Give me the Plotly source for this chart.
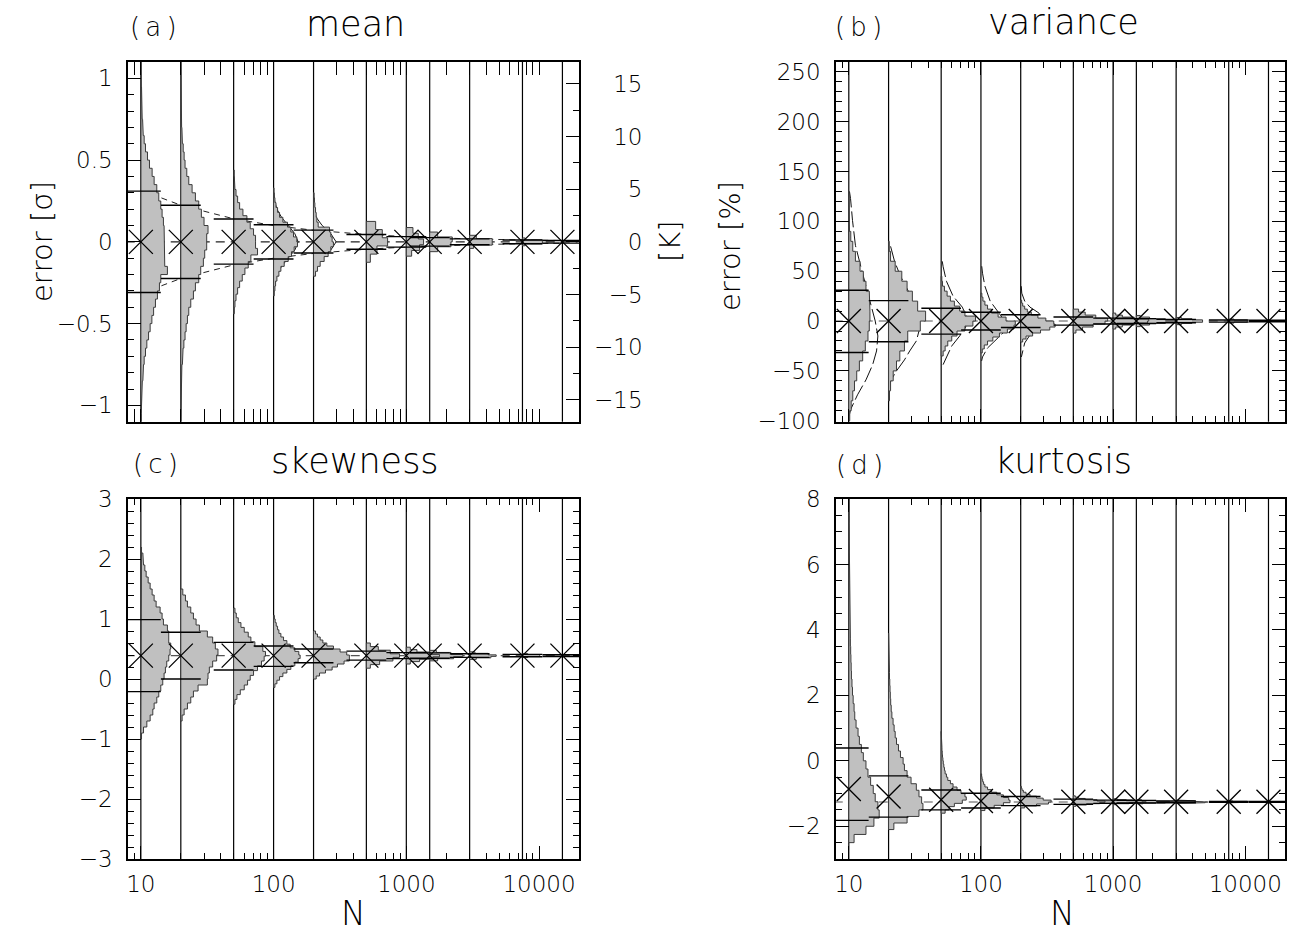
import plotly.graph_objects as go
import math

# ---------------- data ----------------
N_values = [10, 20, 50, 100, 200, 500, 1000, 1500, 3000, 7500, 15000]

# centre (X marker) of each estimator distribution
mean_center = [0, 0, 0, 0, 0, 0, 0, 0, 0, 0, 0]
var_center = [0, 0, 0, 0, 0, 0, 0, 0, 0, 0, 0]
skew_center = [0.39, 0.39, 0.39, 0.39, 0.39, 0.39, 0.39, 0.39, 0.39, 0.39, 0.39]
kurt_center = [-0.86, -1.09, -1.19, -1.23, -1.24, -1.25, -1.25, -1.25, -1.25, -1.25, -1.25]

# reference (true) values, dashed lines
mean_true = 0.0
var_true = 0.0
skew_true = 0.39
kurt_true = -1.26

# one-sigma bars (upper / lower)
mean_hi = [0.31, 0.224, 0.14, 0.105, 0.072, 0.045, 0.032, 0.026, 0.018, 0.0115, 0.008]
mean_lo = [-0.31, -0.224, -0.136, -0.105, -0.068, -0.045, -0.032, -0.026, -0.018, -0.0115, -0.008]
var_hi = [31, 20.5, 12.9, 8.8, 6.3, 4.1, 2.9, 2.4, 1.7, 1.1, 0.75]
var_lo = [-31.6, -20.7, -13.1, -9.0, -6.5, -4.1, -2.9, -2.4, -1.7, -1.1, -0.75]
skew_hi = [0.99, 0.78, 0.61, 0.55, 0.50, 0.465, 0.44, 0.435, 0.42, 0.41, 0.405]
skew_lo = [-0.21, 0.0, 0.15, 0.21, 0.27, 0.315, 0.34, 0.345, 0.36, 0.37, 0.375]
kurt_hi = [0.39, -0.46, -0.89, -0.99, -1.09, -1.17, -1.20, -1.21, -1.23, -1.24, -1.245]
kurt_lo = [-1.82, -1.72, -1.50, -1.44, -1.37, -1.33, -1.30, -1.29, -1.28, -1.27, -1.265]

# expected 1-sigma envelope of the mean (dashed curves in panel a)
mean_env = [0.316, 0.224, 0.141, 0.100, 0.071, 0.045, 0.032, 0.026, 0.018, 0.0115, 0.008]

# histograms: first bin edge, bin size, bar lengths (hundredths of a decade in N)
mean_hist_start = [-1.1, -1.1, -0.44, -0.33, -0.21, -0.125, -0.0875, -0.06, -0.04, -0.024]
mean_hist_step = [0.05, 0.05, 0.04, 0.03, 0.03, 0.05, 0.035, 0.03, 0.02, 0.012]
mean_hist_w = [
    [0.3, 0.4, 0.6, 0.8, 1.1, 1.5, 2.0, 2.5, 3.5, 4.5, 5.8, 7, 8.3, 9.6, 11, 12.5, 14, 15, 20, 18, 18, 17.6,
     17.6, 17.5, 17, 16, 15, 13.5, 12, 10, 8.5, 6.5, 5, 3.5, 2.5, 1.8, 1.3, 1, 0.8, 0.6, 0.5, 0.3, 0.2, 0.1],
    [0.1, 0.1, 0.2, 0.2, 0.3, 0.5, 0.8, 1.2, 1.7, 2.3, 3.2, 4, 5, 6, 7.5, 9.5, 11, 13.5, 15, 17, 18, 19.5,
     19.5, 20.5, 17.5, 15.5, 13.5, 11, 8.5, 6, 4.5, 3.2, 2.5, 1.8, 1.2, 0.8, 0.6, 0.5, 0.4, 0.3, 0.2, 0.2, 0.1, 0.1],
    [0.5, 1, 1.8, 3, 4.5, 6.5, 8.5, 11, 13, 18, 16.5, 16.5, 15, 12.5, 10, 7, 4.5, 3, 1.8, 1, 0.5, 0.3],
    [0.5, 1, 1.5, 2.5, 4, 5.5, 8, 11, 13.5, 15.5, 18, 17.5, 15, 13, 10.5, 7, 4.5, 3, 1.8, 1, 0.5, 0.3],
    [1.5, 3, 5, 8, 11, 13, 15, 14, 13, 12, 3.5, 2.5, 2, 1.5, 1, 0.7, 0.4],
    [3, 8, 16, 12, 7],
    [4, 10, 13, 9, 5],
    [6, 16, 17, 6],
    [3, 17, 17, 5],
    [2, 15, 15, 2],
]

var_hist_start = [-100, -80, -35, -32, -21, -12, -8, -5.6, -3.6, -2]
var_hist_step = [10, 10, 5, 4, 3, 3, 2, 1.6, 1.2, 1]
var_hist_w = [
    [0.7, 1.8, 3.0, 4.3, 6, 8, 10.5, 12.5, 14.5, 15.5, 16, 16, 15.5, 13, 11, 8.5, 5, 3, 1.5, 0.5, 0.3, 0.2, 0.1],
    [0.7, 1.5, 3.5, 6, 8.5, 12, 14.5, 24, 28, 22, 18, 14, 10, 5, 1.5, 0.5],
    [1.5, 3, 5, 8, 12, 18, 24, 26, 18, 14, 10, 7, 4.5, 2.5, 1, 0.5],
    [1, 2.5, 5, 9, 14, 20, 25, 26, 19, 13, 8, 5, 3, 1.5, 0.7],
    [1.5, 4, 9, 15, 22, 26, 25, 19, 13, 8, 5, 3, 1.5, 0.7],
    [2, 7, 15, 24, 26, 17, 9, 4],
    [2, 7, 16, 26, 27, 16, 7, 2],
    [3, 10, 22, 30, 22, 10, 3],
    [4, 12, 20, 20, 12, 4],
    [4, 14, 14, 4],
]

skew_hist_start = [-1.0, -0.7, -0.42, -0.14, 0.0, 0.18, 0.25, 0.3025, 0.3275, 0.358]
skew_hist_step = [0.1, 0.1, 0.08, 0.06, 0.05, 0.06, 0.04, 0.035, 0.025, 0.016]
skew_hist_w = [
    [0.5, 2, 4.5, 7, 9, 10, 12, 13.5, 15, 16.5, 17.5, 18.5, 19.5, 21, 22, 22.5, 21, 21, 20, 17, 16, 14.5,
     11.5, 10, 8.5, 7, 5.5, 4, 3, 2, 1.5, 0.5],
    [1, 2.5, 5, 7.5, 9.5, 13, 20, 20.5, 21.5, 24, 27, 28, 26, 24, 20, 14, 11.5, 9.5, 7.5, 5, 3.5, 1.5],
    [1, 2.5, 5, 8, 10.5, 12.5, 15, 18, 21, 23, 24, 22, 16, 13, 11, 8, 5.5, 3.5, 2, 1],
    [1, 2.5, 4.5, 7, 10, 13, 16, 18.5, 20, 19, 16, 12.5, 10, 7.5, 5.5, 4, 3, 2, 1.2, 0.6],
    [2, 4.5, 9, 14, 18, 23, 27, 27, 25, 20, 15, 10, 7, 5, 3, 1.5],
    [3, 10, 20, 25, 18, 9, 3],
    [3, 10, 20, 25, 18, 8, 3],
    [6, 18, 25, 16, 5],
    [5, 16, 20, 14, 4],
    [4, 13, 13, 4],
]

kurt_hist_start = [-2.5, -2.1, -1.6, -1.52, -1.44, -1.39, -1.34, -1.3125, -1.3, -1.2825]
kurt_hist_step = [0.25, 0.2, 0.1, 0.08, 0.06, 0.04, 0.03, 0.025, 0.02, 0.015]
kurt_hist_w = [
    [4, 13, 19, 23, 22, 20, 18.5, 16.5, 14.5, 13, 11, 9.5, 8, 7, 5.5, 4.5, 4, 3.3, 2.8, 2.4, 2.0, 1.8,
     1.6, 1.4, 1.2, 1.1, 1, 0.9, 0.8, 0.7, 0.6, 0.55, 0.5, 0.45, 0.4, 0.35, 0.3, 0.3, 0.25, 0.2, 0.2, 0.15],
    [4, 14, 23, 26, 25, 23, 21, 17, 14, 12, 11, 9, 7.5, 6, 5, 4.2, 3.4, 2.5, 2, 1.6, 1.3, 1.1, 0.9, 0.7,
     0.6, 0.5, 0.4, 0.3, 0.3, 0.2],
    [3, 6, 10, 16, 19, 18, 15, 12, 9, 7, 5, 4, 3, 2.5, 2, 1.6, 1.3, 1, 0.8, 0.6, 0.5, 0.4, 0.3, 0.3, 0.2],
    [3, 10, 17, 22, 21, 17, 12, 8, 5, 3, 2, 1.3, 0.8, 0.5],
    [3, 12, 21, 23, 17, 12, 7, 4, 2, 1, 0.5],
    [2, 10, 20, 24, 18, 9, 4, 1.5],
    [2, 12, 25, 22, 10, 3],
    [5, 22, 25, 15, 4],
    [4, 22, 24, 14, 3],
    [3, 14, 14, 3],
]

# model density outlines: (value, bar length in hundredths of a decade)
var_pdf_N = [10, 20, 50, 100, 200]
var_pdf_y = [
    [130, 123, 101, 76, 50, 25, 0, -15, -30, -44, -59, -74, -89, -95],
    [75, 60, 45, 31, 15, 0, -10, -20, -30, -39, -50, -59, -65],
    [60, 54.5, 40, 25, 14, 5, -6, -15, -25, -39, -45],
    [55, 48, 35, 20, 7.7, 0, -9, -18, -27, -36, -40],
    [35, 28, 20, 14, 8, 0, -7, -14, -22, -32, -36],
]
var_pdf_w = [
    [0.5, 1.3, 2.8, 5, 10, 15, 20, 22, 21, 18, 13, 6.6, 1.3, 0.3],
    [1.5, 4.5, 9, 14.6, 19, 22, 23, 21, 16, 12, 6, 2, 0.5],
    [0.8, 1.5, 4, 9, 16, 19, 18.6, 14, 8, 3.5, 1],
    [0.6, 1.2, 3, 7, 13.8, 18, 19, 12, 5, 1.2, 0.5],
    [0.4, 0.8, 3, 7, 13.8, 17, 13.8, 7, 3, 1.2, 0.5],
]
mean_pdf_N = [100, 200]
mean_pdf_y = [
    [0.3, 0.25, 0.2, 0.15, 0.1, 0.05, 0, -0.05, -0.1, -0.15, -0.2, -0.25, -0.3],
    [0.2, 0.15, 0.1, 0.05, 0, -0.05, -0.1, -0.15, -0.2],
]
mean_pdf_w = [
    [0.2, 0.8, 2.5, 6, 11, 16, 18.5, 16, 11, 6, 2.5, 0.8, 0.2],
    [0.3, 2, 6.5, 13, 17, 13, 6.5, 2, 0.3],
]

# Kelvin axis labels (right side of panel a)
k_ticks = [-15, -10, -5, 0, 5, 10, 15]

# ---------------- styling ----------------
FONT = "DejaVu Sans"
TXT = "#000000"
W, H = 1296, 933
SEG_HALF = 0.15       # half length (decades) of sigma bars
FILL = "#c0c0c0"
EDGE = "#3c3c3c"

panels = {
    "a": dict(xa="x", ya="y", dom_x=(128, 579), dom_y=(62, 421.7)),
    "b": dict(xa="x2", ya="y2", dom_x=(836, 1285), dom_y=(62, 421.7)),
    "c": dict(xa="x3", ya="y3", dom_x=(128, 579), dom_y=(499, 859)),
    "d": dict(xa="x4", ya="y4", dom_x=(836, 1285), dom_y=(499, 859)),
}

fig = go.Figure()


def hist_trace(hstart, hstep, hw, xa, ya):
    xs, ys = [], []
    for k, widths in enumerate(hw):
        n = N_values[k]
        s, st = hstart[k], hstep[k]
        xs.append(n); ys.append(s)
        for i, w in enumerate(widths):
            xr = n * 10 ** (w / 100.0)
            xs += [xr, xr]
            ys += [s + i * st, s + (i + 1) * st]
        xs.append(n); ys.append(s + len(widths) * st)
        xs.append(n); ys.append(s)
        xs.append(None); ys.append(None)
    return go.Scatter(x=xs, y=ys, mode="lines", fill="toself", fillcolor=FILL,
                      line=dict(color=EDGE, width=1), xaxis=xa, yaxis=ya,
                      hoverinfo="skip", showlegend=False)


def pdf_trace(ns, yy, ww, xa, ya, dash):
    xs, ys = [], []
    for n, ylist, wlist in zip(ns, yy, ww):
        for yv, w in zip(ylist, wlist):
            xs.append(n * 10 ** (w / 100.0)); ys.append(yv)
        xs.append(None); ys.append(None)
    return go.Scatter(x=xs, y=ys, mode="lines", line=dict(color="#111", width=1, dash=dash),
                      xaxis=xa, yaxis=ya, hoverinfo="skip", showlegend=False)


def seg_trace(hi, lo, xa, ya):
    xs, ys = [], []
    for n, h, l in zip(N_values, hi, lo):
        for v in (h, l):
            xs += [n / 10 ** SEG_HALF, n * 10 ** SEG_HALF, None]
            ys += [v, v, None]
    return go.Scatter(x=xs, y=ys, mode="lines", line=dict(color="#000", width=1.4),
                      xaxis=xa, yaxis=ya, cliponaxis=False, hoverinfo="skip", showlegend=False)


def ref_trace(val, xa, ya, color):
    return go.Scatter(x=[N_values[0] / 1.3, N_values[-1] * 1.3], y=[val, val], mode="lines",
                      line=dict(color=color, width=1.1, dash="9px,6px"),
                      xaxis=xa, yaxis=ya, hoverinfo="skip", showlegend=False)


def x_trace(centers, xa, ya):
    return go.Scatter(x=N_values, y=centers, mode="markers",
                      marker=dict(symbol="x-thin-open", size=24, color="#000",
                                  line=dict(color="#000", width=1.3)),
                      xaxis=xa, yaxis=ya, cliponaxis=False, hoverinfo="skip", showlegend=False)


# panel a
fig.add_trace(pdf_trace(mean_pdf_N, mean_pdf_y, mean_pdf_w, "x", "y", "solid"))
fig.add_trace(ref_trace(mean_true, "x", "y", "#222"))
fig.add_trace(go.Scatter(x=N_values, y=mean_env, mode="lines",
                         line=dict(color="#222", width=1, dash="6px,5px"), xaxis="x", yaxis="y",
                         hoverinfo="skip", showlegend=False))
fig.add_trace(go.Scatter(x=N_values, y=[-v for v in mean_env], mode="lines",
                         line=dict(color="#222", width=1, dash="6px,5px"), xaxis="x", yaxis="y",
                         hoverinfo="skip", showlegend=False))
fig.add_trace(hist_trace(mean_hist_start, mean_hist_step, mean_hist_w, "x", "y"))
fig.add_trace(seg_trace(mean_hi, mean_lo, "x", "y"))
fig.add_trace(x_trace(mean_center, "x", "y"))

# panel b
fig.add_trace(pdf_trace(var_pdf_N, var_pdf_y, var_pdf_w, "x2", "y2", "16px,4px"))
fig.add_trace(ref_trace(var_true, "x2", "y2", "#555"))
fig.add_trace(hist_trace(var_hist_start, var_hist_step, var_hist_w, "x2", "y2"))
fig.add_trace(seg_trace(var_hi, var_lo, "x2", "y2"))
fig.add_trace(x_trace(var_center, "x2", "y2"))

# panel c
fig.add_trace(ref_trace(skew_true, "x3", "y3", "#555"))
fig.add_trace(hist_trace(skew_hist_start, skew_hist_step, skew_hist_w, "x3", "y3"))
fig.add_trace(seg_trace(skew_hi, skew_lo, "x3", "y3"))
fig.add_trace(x_trace(skew_center, "x3", "y3"))

# panel d
fig.add_trace(ref_trace(kurt_true, "x4", "y4", "#555"))
fig.add_trace(hist_trace(kurt_hist_start, kurt_hist_step, kurt_hist_w, "x4", "y4"))
fig.add_trace(seg_trace(kurt_hi, kurt_lo, "x4", "y4"))
fig.add_trace(x_trace(kurt_center, "x4", "y4"))

# vertical lines at each N (below traces)
for p in panels.values():
    for n in N_values:
        fig.add_shape(type="line", xref=p["xa"], yref=p["ya"] + " domain", x0=n, x1=n, y0=0, y1=1,
                      line=dict(color="#000", width=1.2), layer="below")

x_minor = [8, 9] + [m * 10 for m in range(2, 10)] + [m * 100 for m in range(2, 10)] + \
          [m * 1000 for m in range(2, 10)] + [20000]
tickfont = dict(family=FONT, size=23, color=TXT, weight=300)


def xaxis_cfg(p, labels):
    x0, x1 = p["dom_x"]
    return dict(type="log", domain=[x0 / W, x1 / W], range=[math.log10(8), math.log10(20000)],
                anchor=p["ya"], tickmode="array", tickvals=[10, 100, 1000, 10000],
                ticktext=["10", "100", "1000", "10000"], showticklabels=labels,
                ticks="inside", ticklen=13, tickwidth=1.2, tickcolor="#000", mirror="allticks",
                showline=True, linecolor="#000", linewidth=1.6, showgrid=False, zeroline=False,
                minor=dict(tickmode="array", tickvals=x_minor, ticks="inside", ticklen=6,
                           tickwidth=1.1, tickcolor="#000", showgrid=False),
                tickfont=tickfont, ticklabelstandoff=4, layer="above traces", fixedrange=True,
                automargin=False)


def yaxis_cfg(p, rng, vals, minor_dtick, mirror=True):
    y0, y1 = p["dom_y"]
    txt = [("\u2212" + f"{abs(v):g}") if v < 0 else f"{v:g}" for v in vals]
    return dict(domain=[1 - y1 / H, 1 - y0 / H], range=rng, anchor=p["xa"],
                tickmode="array", tickvals=vals, ticktext=txt,
                ticks="inside", ticklen=13, tickwidth=1.2, tickcolor="#000",
                mirror="allticks" if mirror else True,
                showline=True, linecolor="#000", linewidth=1.6, showgrid=False, zeroline=False,
                minor=dict(dtick=minor_dtick, ticks="inside", ticklen=6, tickwidth=1.1,
                           tickcolor="#000", showgrid=False),
                tickfont=tickfont, ticklabelstandoff=9, layer="above traces", fixedrange=True,
                automargin=False)


FIG_SP, THIN_SP = "\u2007", "\u2009"   # digit-wide and thin spaces (minus = digit + thin)


def k_label(v):
    # right-align the Kelvin labels by padding on the left with fixed-width spaces
    digits = str(abs(v))
    minus_pad = "\u2212" if v < 0 else FIG_SP + THIN_SP
    return FIG_SP * (2 - len(digits)) + minus_pad + digits


layout = dict(
    width=W, height=H, margin=dict(l=0, r=0, t=0, b=0, pad=0, autoexpand=False),
    template="none",
    paper_bgcolor="white", plot_bgcolor="white", showlegend=False,
    xaxis=xaxis_cfg(panels["a"], False),
    xaxis2=xaxis_cfg(panels["b"], False),
    xaxis3=xaxis_cfg(panels["c"], True),
    xaxis4=xaxis_cfg(panels["d"], True),
    yaxis=yaxis_cfg(panels["a"], [-1.1, 1.1], [-1, -0.5, 0, 0.5, 1], 0.1, mirror=False),
    yaxis2=yaxis_cfg(panels["b"], [-101, 260], [-100, -50, 0, 50, 100, 150, 200, 250], 10),
    yaxis3=yaxis_cfg(panels["c"], [-3, 3], [-3, -2, -1, 0, 1, 2, 3], 0.2),
    yaxis4=yaxis_cfg(panels["d"], [-3, 8], [-2, 0, 2, 4, 6, 8], 0.5),
)
k_range = 17.08
layout["yaxis5"] = dict(overlaying="y", side="right", anchor="x", range=[-k_range, k_range],
                        tickmode="array", tickvals=k_ticks,
                        ticktext=[k_label(v) for v in k_ticks],
                        ticks="inside", ticklen=13, tickwidth=1.2, tickcolor="#000",
                        showline=False, showgrid=False, zeroline=False,
                        minor=dict(dtick=2.5, ticks="inside", ticklen=6, tickwidth=1.1,
                                   tickcolor="#000", showgrid=False),
                        tickfont=tickfont, ticklabelstandoff=14, fixedrange=True, automargin=False)
fig.update_layout(**layout)
# invisible trace so the Kelvin axis is drawn
fig.add_trace(go.Scatter(x=[None], y=[None], xaxis="x", yaxis="y5", showlegend=False, hoverinfo="skip"))


def ann(text, x, y, size, angle=0):
    fig.add_annotation(text=text, x=x / W, y=1 - y / H, xref="paper", yref="paper",
                       showarrow=False, textangle=angle, xanchor="center", yanchor="middle",
                       font=dict(family=FONT, size=size, color=TXT, weight=300))


ann("(\u2009a\u2009)", 153, 27, 26)
ann("mean", 355, 24, 35)
ann("(\u2009b\u2009)", 858, 27, 26)
ann("variance", 1063, 22, 35)
ann("(\u2009c\u2009)", 155, 464, 26)
ann("skewness", 355, 461, 35)
ann("(\u2009d\u2009)", 859, 465, 26)
ann("kurtosis", 1063, 461, 35)
ann("N", 353, 913, 33)
ann("N", 1062, 913, 33)
ann("error [\u03c3]", 42, 242, 29, -90)
ann("[K]", 670, 241, 29, -90)
ann("error [%]", 730, 246, 29, -90)

fig.write_html("out.html", config={"displayModeBar": False},
               post_script="document.body.style.margin='0';document.body.style.overflow='hidden';")
